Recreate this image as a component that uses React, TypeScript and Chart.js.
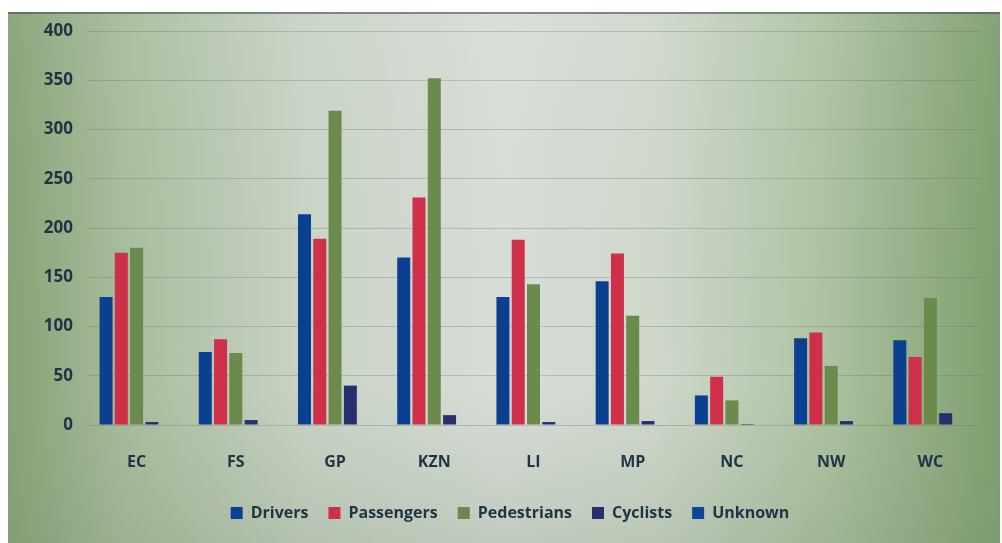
import React, { useEffect, useRef } from "react";
import { Chart, registerables } from "chart.js";

Chart.register(...registerables);

const categories = ["EC", "FS", "GP", "KZN", "LI", "MP", "NC", "NW", "WC"];
const drivers = [130, 74, 214, 170, 130, 146, 30, 88, 86];
const passengers = [175, 87, 189, 231, 188, 174, 49, 94, 69];
const pedestrians = [180, 73, 319, 352, 143, 111, 25, 60, 129];
const cyclists = [3, 5, 40, 10, 3, 4, 1, 4, 12];
const unknown = [0, 0, 0, 0, 0, 0, 0, 0, 0];
const yTicks = [0, 50, 100, 150, 200, 250, 300, 350, 400];

const TEXT = "#1f3545";
const FONT = "'Open Sans', 'DejaVu Sans', sans-serif";

const bgPlugin = {
  id: "photoBg",
  beforeDraw(chart: any) {
    const ctx = chart.ctx;
    const w = chart.width;
    const h = chart.height;
    ctx.save();
    ctx.fillStyle = "#ffffff";
    ctx.fillRect(0, 0, w, h);
    const g = ctx.createLinearGradient(8, 0, 1000, 0);
    g.addColorStop(0, "#86a276");
    g.addColorStop(0.12, "#a9bd9d");
    g.addColorStop(0.3, "#c9d3c6");
    g.addColorStop(0.5, "#d8ddd8");
    g.addColorStop(0.65, "#d0d8cd");
    g.addColorStop(0.82, "#aec3a3");
    g.addColorStop(1, "#7f9e6e");
    ctx.fillStyle = g;
    ctx.fillRect(8, 12, 992, h - 12);
    const v = ctx.createLinearGradient(0, 12, 0, h);
    v.addColorStop(0, "rgba(255,255,255,0.05)");
    v.addColorStop(0.7, "rgba(140,160,130,0.0)");
    v.addColorStop(1, "rgba(120,145,110,0.25)");
    ctx.fillStyle = v;
    ctx.fillRect(8, 12, 992, h - 12);
    ctx.strokeStyle = "rgba(70,80,80,0.6)";
    ctx.lineWidth = 2;
    ctx.beginPath();
    ctx.moveTo(8, 13);
    ctx.lineTo(1000, 13);
    ctx.stroke();
    ctx.restore();
  },
};

export default function App() {
  const ref = useRef<HTMLCanvasElement | null>(null);

  useEffect(() => {
    if (!ref.current) return;
    const chart = new Chart(ref.current, {
      type: "bar",
      data: {
        labels: categories,
        datasets: [
          { label: "Drivers", data: drivers, backgroundColor: "#0b3f8f" },
          { label: "Passengers", data: passengers, backgroundColor: "#cf3049" },
          { label: "Pedestrians", data: pedestrians, backgroundColor: "#6a8b4c" },
          { label: "Cyclists", data: cyclists, backgroundColor: "#272f6c" },
          { label: "Unknown", data: unknown, backgroundColor: "#0d4698" },
        ],
      },
      options: {
        responsive: false,
        animation: false,
        maintainAspectRatio: false,
        layout: { padding: { left: 40, right: 22, top: 31, bottom: 12 } },
        datasets: {
          bar: { categoryPercentage: 0.77, barPercentage: 0.85 },
        },
        plugins: {
          tooltip: { enabled: false },
          legend: {
            position: "bottom",
            labels: {
              boxWidth: 12,
              boxHeight: 12,
              padding: 20,
              color: TEXT,
              font: { family: FONT, size: 16, weight: "bold" },
            },
          },
        },
        scales: {
          x: {
            grid: { display: false, drawTicks: false },
            border: { display: false },
            ticks: {
              color: TEXT,
              padding: 28,
              font: { family: FONT, size: 16, weight: "bold" },
            },
            afterFit(scale: any) {
              scale.height = 60;
            },
          },
          y: {
            min: 0,
            max: 400,
            afterBuildTicks(scale: any) {
              scale.ticks = yTicks.map((v) => ({ value: v }));
            },
            grid: {
              color: "rgba(95,105,115,0.28)",
              lineWidth: 1,
              drawTicks: false,
            },
            border: { display: false },
            ticks: {
              color: TEXT,
              padding: 14,
              font: { family: FONT, size: 17, weight: "bold" },
            },
            afterFit(scale: any) {
              scale.width = 47;
            },
          },
        },
      },
      plugins: [bgPlugin],
    } as any);
    return () => chart.destroy();
  }, []);

  return (
    <div style={{ position: "absolute", left: 0, top: 0, width: 1002, height: 543 }}>
      <canvas ref={ref} width={1002} height={543} style={{ display: "block" }} />
    </div>
  );
}
